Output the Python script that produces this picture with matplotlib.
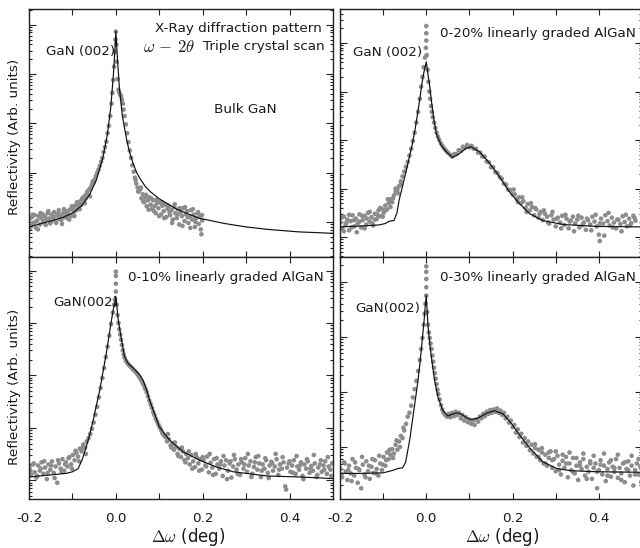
import numpy as np
import matplotlib
matplotlib.use("Agg")
import matplotlib.pyplot as plt
from matplotlib.ticker import FixedLocator, LogLocator, NullFormatter

plt.rcParams['font.family'] = ['DejaVu Sans']
plt.rcParams['mathtext.fontset'] = 'cm'

# ---------------- data (x in deg, reflectivity given as log10) ----------------
XTICKS = [-0.2, 0.0, 0.2, 0.4]
XTICK_LABELS = ['-0.2', '0.0', '0.2', '0.4']
XMINOR = [-0.1, 0.1, 0.3]

# Panel A: Bulk GaN
A_data_x = [-0.199, -0.196, -0.193, -0.190, -0.187, -0.184, -0.181, -0.178, -0.175, -0.172,
            -0.169, -0.166, -0.163, -0.160, -0.157, -0.154, -0.151, -0.148, -0.145, -0.142,
            -0.139, -0.136, -0.133, -0.130, -0.127, -0.124, -0.121, -0.118, -0.115, -0.112,
            -0.109, -0.106, -0.103, -0.100, -0.097, -0.094, -0.091, -0.088, -0.085, -0.082,
            -0.079, -0.076, -0.073, -0.070, -0.067, -0.064, -0.061, -0.058, -0.055, -0.052,
            -0.049, -0.046, -0.043, -0.040, -0.037, -0.034, -0.031, -0.028, -0.025, -0.022,
            -0.019, -0.016, -0.013, -0.010, -0.008, -0.006, -0.004, -0.002, -0.001, 0.000,
            0.001, 0.002, 0.004, 0.006, 0.008, 0.010, 0.012, 0.014, 0.016, 0.018,
            0.020, 0.023, 0.026, 0.029, 0.032, 0.035, 0.038, 0.041, 0.044, 0.047,
            0.050, 0.053, 0.056, 0.059, 0.062, 0.065, 0.068, 0.071, 0.074, 0.077,
            0.080, 0.083, 0.086, 0.089, 0.092, 0.095, 0.098, 0.101, 0.104, 0.107,
            0.110, 0.113, 0.116, 0.119, 0.122, 0.125, 0.128, 0.131, 0.134, 0.137,
            0.140, 0.143, 0.146, 0.149, 0.152, 0.155, 0.158, 0.161, 0.164, 0.167,
            0.170, 0.173, 0.176, 0.179, 0.182, 0.185, 0.188, 0.191, 0.194, 0.197, 0.199]
A_data_logy = [0.05, -0.08, 0.10, -0.02, 0.14, -0.12, 0.03, 0.12, -0.05, 0.08,
               0.16, -0.01, 0.11, 0.04, 0.18, 0.07, -0.03, 0.15, 0.09, 0.20,
               0.02, 0.13, 0.17, 0.06, 0.14, -0.04, 0.19, 0.10, 0.22, 0.08,
               0.16, 0.25, 0.12, 0.28, 0.20, 0.33, 0.24, 0.36, 0.30, 0.42,
               0.35, 0.46, 0.52, 0.47, 0.58, 0.55, 0.66, 0.70, 0.76, 0.80,
               0.86, 0.93, 1.00, 1.06, 1.14, 1.22, 1.30, 1.42, 1.52, 1.63,
               1.80, 1.95, 2.15, 2.40, 2.62, 2.88, 3.15, 3.45, 3.70, 3.86,
               3.60, 3.25, 2.90, 2.68, 2.62, 2.58, 2.55, 2.48, 2.40, 2.28,
               2.15, 1.98, 1.80, 1.62, 1.45, 1.30, 1.15, 1.02, 0.90, 0.78,
               0.70, 0.62, 0.66, 0.48, 0.56, 0.40, 0.50, 0.32, 0.44, 0.50,
               0.35, 0.26, 0.44, 0.32, 0.18, 0.38, 0.28, 0.40, 0.15, 0.33,
               0.22, 0.36, 0.10, 0.27, 0.32, 0.14, 0.24, 0.05, 0.30, 0.18,
               0.08, 0.26, -0.05, 0.20, 0.12, 0.28, 0.02, 0.16, 0.22, -0.02,
               0.10, 0.24, 0.05, 0.15, -0.10, 0.08, 0.18, -0.04, 0.12, -0.25, 0.03]
A_more_x = [-0.1975, -0.1915, -0.1855, -0.1795, -0.1735, -0.1675, -0.1615, -0.1555, -0.1495,
            -0.1435, -0.1375, -0.1315, -0.1255, -0.1195, -0.1135, -0.1075, -0.1015, -0.0955,
            -0.0895, -0.0835, -0.0775, -0.0715, -0.0655, -0.0595, -0.0535,
            0.0455, 0.0515, 0.0575, 0.0635, 0.0695, 0.0755, 0.0815, 0.0875, 0.0935, 0.0995,
            0.1055, 0.1115, 0.1175, 0.1235, 0.1295, 0.1355, 0.1415, 0.1475, 0.1535, 0.1595,
            0.1655, 0.1715, 0.1775, 0.1835, 0.1895, 0.1955, 0.1985]
A_more_logy = [-0.12, 0.15, 0.00, -0.15, 0.18, 0.02, -0.06, 0.22, 0.00,
               0.10, -0.02, 0.24, 0.04, 0.26, 0.15, 0.05, 0.32, 0.12,
               0.40, 0.26, 0.48, 0.38, 0.62, 0.52, 0.82,
               0.85, 0.62, 0.70, 0.42, 0.55, 0.25, 0.48, 0.22, 0.45, 0.12,
               0.40, 0.08, 0.34, 0.20, -0.02, 0.36, 0.15, 0.28, -0.08, 0.30,
               0.10, -0.12, 0.26, 0.00, 0.20, -0.15, 0.14]
A_fit_x = [-0.20, -0.15, -0.12, -0.10, -0.08, -0.06, -0.045, -0.03, -0.02, -0.012, -0.006,
           -0.002, 0.000, 0.003, 0.008, 0.015, 0.025, 0.032, 0.040, 0.048, 0.057, 0.068,
           0.080, 0.10, 0.14, 0.19, 0.25, 0.30, 0.35, 0.42, 0.50]
A_fit_logy = [-0.10, 0.02, 0.10, 0.18, 0.32, 0.56, 0.85, 1.30, 1.75, 2.30, 2.95,
              3.50, 3.87, 3.40, 2.74, 2.15, 1.66, 1.40, 1.18, 1.00, 0.86, 0.72,
              0.61, 0.47, 0.26, 0.08, -0.03, -0.10, -0.15, -0.20, -0.23]

# Panel B: 0-20% graded AlGaN
B_data_x = [-0.199, -0.195, -0.191, -0.187, -0.183, -0.179, -0.175, -0.171, -0.167, -0.163,
            -0.159, -0.155, -0.151, -0.147, -0.143, -0.139, -0.135, -0.131, -0.127, -0.123,
            -0.119, -0.115, -0.111, -0.107, -0.103, -0.099, -0.095, -0.091, -0.087, -0.083,
            -0.079, -0.075, -0.071, -0.067, -0.063, -0.059, -0.055, -0.051, -0.047, -0.043,
            -0.039, -0.035, -0.031, -0.027, -0.023, -0.019, -0.015, -0.012, -0.009, -0.006,
            -0.003, -0.001, 0.000, 0.000, 0.000, 0.001, 0.003, 0.005, 0.007, 0.009,
            0.011, 0.013, 0.015, 0.018, 0.021, 0.024, 0.027, 0.030, 0.034, 0.038,
            0.042, 0.046, 0.050, 0.055, 0.060, 0.065, 0.070, 0.075, 0.080, 0.085,
            0.090, 0.095, 0.100, 0.105, 0.110, 0.115, 0.120, 0.125, 0.130, 0.135,
            0.140, 0.145, 0.150, 0.155, 0.160, 0.165, 0.170, 0.175, 0.180, 0.185,
            0.190, 0.195, 0.200, 0.205, 0.210, 0.215, 0.220, 0.225, 0.230, 0.235,
            0.240, 0.245, 0.250, 0.255, 0.260, 0.265, 0.270, 0.275, 0.280, 0.285,
            0.290, 0.295, 0.300, 0.305, 0.310, 0.315, 0.320, 0.325, 0.330, 0.335,
            0.340, 0.345, 0.350, 0.355, 0.360, 0.365, 0.370, 0.375, 0.380, 0.385,
            0.390, 0.395, 0.400, 0.402, 0.405, 0.410, 0.415, 0.420, 0.425, 0.430,
            0.435, 0.440, 0.445, 0.450, 0.455, 0.460, 0.465, 0.470, 0.475, 0.480, 0.485]
B_data_logy = [0.30, 0.18, 0.42, 0.25, 0.36, 0.14, 0.33, 0.45, 0.22, 0.38,
               0.28, 0.47, 0.20, 0.35, 0.44, 0.26, 0.50, 0.32, 0.41, 0.24,
               0.48, 0.37, 0.55, 0.43, 0.58, 0.50, 0.65, 0.57, 0.70, 0.78,
               0.72, 0.86, 0.93, 0.98, 1.05, 1.15, 1.25, 1.35, 1.45, 1.55,
               1.68, 1.82, 1.98, 2.15, 2.36, 2.58, 2.85, 3.10, 3.30, 3.50,
               3.70, 3.90, 4.05, 4.20, 4.35, 3.75, 3.45, 3.20, 3.00, 2.85,
               2.70, 2.58, 2.47, 2.36, 2.25, 2.15, 2.07, 2.00, 1.93, 1.87,
               1.82, 1.78, 1.74, 1.70, 1.66, 1.71, 1.71, 1.79, 1.78, 1.86,
               1.84, 1.90, 1.85, 1.88, 1.82, 1.82, 1.74, 1.74, 1.66, 1.66,
               1.56, 1.54, 1.44, 1.44, 1.34, 1.32, 1.24, 1.20, 1.10, 1.08,
               0.98, 0.97, 0.88, 0.88, 0.78, 0.82, 0.70, 0.74, 0.60, 0.68,
               0.55, 0.62, 0.45, 0.57, 0.40, 0.52, 0.35, 0.48, 0.42, 0.28,
               0.45, 0.36, 0.22, 0.40, 0.30, 0.44, 0.25, 0.38, 0.18, 0.34,
               0.42, 0.28, 0.36, 0.20, 0.40, 0.30, 0.15, 0.35, 0.26, 0.42,
               0.32, 0.22, 0.05, -0.08, 0.38, 0.28, 0.45, 0.33, 0.24, 0.40,
               0.30, 0.18, 0.36, 0.27, 0.43, 0.31, 0.22, 0.38, 0.29, 0.44, 0.34]
B_more_x = [-0.197, -0.191, -0.185, -0.179, -0.173, -0.167, -0.161, -0.155, -0.149, -0.143,
            -0.137, -0.131, -0.125, -0.119, -0.113, -0.107, -0.101, -0.095, -0.089, -0.083,
            -0.077, -0.071, -0.065, -0.059,
            0.2025, 0.2125, 0.2225, 0.2325, 0.2425, 0.2525, 0.2625, 0.2725, 0.2825, 0.2925,
            0.3025, 0.3125, 0.3225, 0.3325, 0.3425, 0.3525, 0.3625, 0.3725, 0.3825, 0.3925,
            0.4025, 0.4125, 0.4225, 0.4325, 0.4425, 0.4525, 0.4625, 0.4725, 0.4825]
B_more_logy = [0.40, 0.12, 0.30, 0.46, 0.20, 0.35, 0.10, 0.32, 0.44, 0.18,
               0.38, 0.52, 0.28, 0.36, 0.46, 0.60, 0.42, 0.55, 0.78, 0.62,
               0.80, 1.00, 0.90, 1.08,
               0.98, 0.72, 0.82, 0.52, 0.70, 0.60, 0.48, 0.55, 0.30, 0.52,
               0.38, 0.18, 0.46, 0.32, 0.12, 0.44, 0.25, 0.38, 0.14, 0.46,
               0.28, 0.03, 0.50, 0.20, 0.36, 0.12, 0.46, 0.24, 0.40]
B_fit_x = [-0.200, -0.150, -0.110, -0.095, -0.085, -0.075, -0.068, -0.063, -0.055, -0.048,
           -0.040, -0.032, -0.026, -0.020, -0.015, -0.010, -0.005, 0.000, 0.004, 0.008,
           0.012, 0.016, 0.023, 0.034, 0.046, 0.061, 0.077, 0.092, 0.104, 0.123,
           0.147, 0.170, 0.193, 0.216, 0.240, 0.270, 0.317, 0.395, 0.500]
B_fit_logy = [0.21, 0.23, 0.25, 0.28, 0.33, 0.34, 0.50, 0.76, 1.05, 1.31,
              1.62, 1.93, 2.22, 2.55, 2.85, 3.17, 3.42, 3.61, 3.35, 3.10,
              2.80, 2.52, 2.14, 1.90, 1.76, 1.64, 1.72, 1.83, 1.86, 1.76,
              1.52, 1.24, 0.93, 0.69, 0.48, 0.34, 0.26, 0.22, 0.21]

# Panel C: 0-10% graded AlGaN
C_data_x = [-0.199, -0.195, -0.191, -0.187, -0.183, -0.179, -0.175, -0.171, -0.167, -0.163,
            -0.159, -0.155, -0.151, -0.147, -0.143, -0.139, -0.135, -0.131, -0.127, -0.123,
            -0.119, -0.115, -0.111, -0.107, -0.103, -0.099, -0.095, -0.091, -0.087, -0.083,
            -0.079, -0.075, -0.071, -0.067, -0.063, -0.059, -0.055, -0.051, -0.047, -0.043,
            -0.039, -0.035, -0.031, -0.027, -0.023, -0.019, -0.015, -0.011, -0.007, -0.004,
            -0.002, 0.000, 0.000, 0.000, 0.000, 0.002, 0.004, 0.006, 0.008, 0.010,
            0.012, 0.014, 0.016, 0.018, 0.020, 0.023, 0.026, 0.029, 0.032, 0.035,
            0.038, 0.041, 0.044, 0.047, 0.050, 0.053, 0.056, 0.059, 0.062, 0.065,
            0.068, 0.071, 0.074, 0.077, 0.080, 0.083, 0.086, 0.089, 0.092, 0.095,
            0.098, 0.101, 0.104, 0.107, 0.110, 0.114, 0.118, 0.122, 0.126, 0.130,
            0.134, 0.138, 0.142, 0.146, 0.150, 0.154, 0.158, 0.162, 0.166, 0.170,
            0.174, 0.178, 0.182, 0.186, 0.190, 0.194, 0.198, 0.202, 0.206, 0.210,
            0.214, 0.218, 0.222, 0.226, 0.230, 0.234, 0.238, 0.242, 0.246, 0.250,
            0.254, 0.258, 0.262, 0.266, 0.270, 0.274, 0.278, 0.282, 0.286, 0.290,
            0.294, 0.298, 0.302, 0.306, 0.310, 0.314, 0.318, 0.322, 0.326, 0.330,
            0.334, 0.338, 0.342, 0.346, 0.350, 0.354, 0.358, 0.362, 0.366, 0.370,
            0.374, 0.378, 0.382, 0.386, 0.390, 0.394, 0.398, 0.402, 0.406, 0.410,
            0.414, 0.418, 0.422, 0.426, 0.430, 0.434, 0.438, 0.442, 0.446, 0.450,
            0.454, 0.458, 0.462, 0.466, 0.470, 0.474, 0.478, 0.482, 0.486, 0.490, 0.494, 0.498]
C_data_logy = [0.25, 0.10, 0.30, 0.15, 0.05, 0.28, 0.18, 0.34, 0.12, 0.24,
               0.02, 0.30, 0.20, 0.36, 0.14, 0.26, -0.05, 0.32, 0.22, 0.40,
               0.18, 0.34, 0.26, 0.44, 0.30, 0.48, 0.38, 0.52, 0.45, 0.60,
               0.55, 0.68, 0.62, 0.74, 0.80, 0.88, 0.98, 1.10, 1.25, 1.40,
               1.58, 1.76, 1.95, 2.14, 2.35, 2.55, 2.76, 2.98, 3.20, 3.35,
               3.45, 3.60, 3.75, 3.90, 3.98, 3.35, 3.15, 3.00, 2.88, 2.78,
               2.68, 2.58, 2.48, 2.40, 2.34, 2.28, 2.24, 2.21, 2.18, 2.16,
               2.13, 2.10, 2.08, 2.05, 2.02, 1.98, 1.94, 1.90, 1.85, 1.80,
               1.74, 1.68, 1.60, 1.52, 1.45, 1.38, 1.30, 1.24, 1.17, 1.12,
               1.06, 1.01, 0.96, 0.90, 0.86, 0.82, 0.74, 0.78, 0.66, 0.70,
               0.58, 0.64, 0.50, 0.60, 0.44, 0.55, 0.38, 0.50, 0.42, 0.30,
               0.48, 0.36, 0.25, 0.44, 0.32, 0.40, 0.20, 0.38, 0.28, 0.45,
               0.15, 0.33, 0.24, 0.40, 0.12, 0.30, 0.22, 0.36, 0.08, 0.28,
               0.38, 0.18, 0.32, 0.05, 0.26, 0.40, 0.20, 0.30, 0.10, 0.34,
               0.22, 0.42, 0.16, 0.28, 0.36, 0.12, 0.25, 0.44, 0.20, 0.32,
               0.06, 0.30, 0.22, 0.38, 0.14, 0.28, 0.35, 0.18, 0.26, 0.40,
               0.10, 0.30, 0.22, 0.34, -0.12, 0.24, 0.32, 0.16, 0.28, 0.38,
               0.12, 0.26, 0.20, 0.34, 0.08, 0.30, 0.22, 0.36, 0.14, 0.27,
               0.18, 0.32, 0.06, 0.24, 0.30, 0.16, 0.28, 0.36, 0.12, 0.26, 0.20, 0.32]
C_more_x = [-0.197, -0.189, -0.181, -0.173, -0.165, -0.157, -0.149, -0.141, -0.133, -0.125,
            -0.117, -0.109, -0.101, -0.093, -0.085, -0.077, -0.069,
            0.120, 0.128, 0.136, 0.144, 0.152, 0.160, 0.168, 0.176, 0.184, 0.192,
            0.200, 0.208, 0.216, 0.224, 0.232, 0.240, 0.248, 0.256, 0.264, 0.272,
            0.280, 0.288, 0.296, 0.304, 0.312, 0.320, 0.328, 0.336, 0.344, 0.352,
            0.360, 0.368, 0.376, 0.384, 0.392, 0.400, 0.408, 0.416, 0.424, 0.432,
            0.440, 0.448, 0.456, 0.464, 0.472, 0.480, 0.488, 0.496]
C_more_logy = [0.18, 0.32, 0.08, 0.22, 0.36, 0.14, 0.28, 0.04, 0.38, 0.16,
               0.30, 0.42, 0.22, 0.56, 0.36, 0.62, 0.50,
               0.88, 0.62, 0.72, 0.46, 0.62, 0.34, 0.55, 0.22, 0.50, 0.18,
               0.44, 0.26, 0.50, 0.10, 0.42, 0.30, 0.46, 0.02, 0.36, 0.48,
               0.12, 0.40, 0.30, 0.50, 0.06, 0.34, 0.46, 0.18, 0.42, 0.04,
               0.32, 0.50, 0.20, 0.44, -0.18, 0.36, 0.14, 0.46, 0.28, 0.02,
               0.40, 0.22, 0.48, 0.10, 0.38, 0.20, 0.44, 0.08]
C_fit_x = [-0.200, -0.150, -0.114, -0.100, -0.087, -0.078, -0.068, -0.060, -0.052, -0.045,
           -0.037, -0.030, -0.022, -0.016, -0.010, -0.005, -0.002, 0.000, 0.005, 0.009,
           0.013, 0.020, 0.028, 0.040, 0.055, 0.063, 0.071, 0.078, 0.086, 0.100,
           0.124, 0.155, 0.193, 0.232, 0.270, 0.348, 0.425, 0.500]
C_fit_logy = [0.06, 0.10, 0.13, 0.16, 0.22, 0.38, 0.64, 0.88, 1.15, 1.42,
              1.72, 2.05, 2.42, 2.74, 3.06, 3.30, 3.41, 3.51, 3.09, 2.88,
              2.68, 2.36, 2.23, 2.14, 2.01, 1.90, 1.72, 1.52, 1.34, 1.02,
              0.76, 0.54, 0.38, 0.25, 0.16, 0.08, 0.06, 0.03]

# Panel D: 0-30% graded AlGaN
D_data_x = [-0.199, -0.195, -0.191, -0.187, -0.183, -0.179, -0.175, -0.171, -0.167, -0.163,
            -0.159, -0.155, -0.151, -0.147, -0.143, -0.139, -0.135, -0.131, -0.127, -0.123,
            -0.119, -0.115, -0.111, -0.107, -0.103, -0.099, -0.095, -0.091, -0.087, -0.083,
            -0.079, -0.075, -0.071, -0.067, -0.063, -0.059, -0.055, -0.051, -0.047, -0.043,
            -0.039, -0.035, -0.031, -0.027, -0.023, -0.019, -0.015, -0.012, -0.009, -0.006,
            -0.004, -0.002, 0.000, 0.000, 0.000, 0.000, 0.000, 0.002, 0.004, 0.006,
            0.008, 0.010, 0.012, 0.014, 0.016, 0.018, 0.020, 0.022, 0.024, 0.026,
            0.028, 0.031, 0.034, 0.037, 0.040, 0.044, 0.048, 0.052, 0.056, 0.060,
            0.064, 0.068, 0.072, 0.076, 0.080, 0.084, 0.088, 0.092, 0.096, 0.100,
            0.104, 0.108, 0.112, 0.116, 0.120, 0.124, 0.128, 0.132, 0.136, 0.140,
            0.144, 0.148, 0.152, 0.156, 0.160, 0.164, 0.168, 0.172, 0.176, 0.180,
            0.184, 0.188, 0.192, 0.196, 0.200, 0.204, 0.208, 0.212, 0.216, 0.220,
            0.224, 0.228, 0.232, 0.236, 0.240, 0.244, 0.248, 0.252, 0.256, 0.260,
            0.264, 0.268, 0.272, 0.276, 0.280, 0.284, 0.288, 0.292, 0.296, 0.300,
            0.304, 0.308, 0.312, 0.316, 0.320, 0.324, 0.328, 0.332, 0.336, 0.340,
            0.344, 0.348, 0.352, 0.356, 0.360, 0.364, 0.368, 0.372, 0.376, 0.380,
            0.384, 0.388, 0.392, 0.396, 0.400, 0.404, 0.408, 0.412, 0.416, 0.420,
            0.424, 0.428, 0.432, 0.436, 0.440, 0.444, 0.448, 0.452, 0.456, 0.460,
            0.464, 0.468, 0.472, 0.476, 0.480, 0.484, 0.488, 0.492, 0.496]
D_data_logy = [0.60, 0.45, 0.72, 0.55, 0.40, 0.66, 0.52, 0.78, 0.48, 0.62,
               0.35, 0.58, 0.25, 0.68, 0.50, 0.74, 0.56, 0.42, 0.64, 0.53,
               0.76, 0.60, 0.48, 0.70, 0.58, 0.82, 0.66, 0.90, 0.78, 0.86,
               0.96, 0.88, 1.04, 0.95, 1.10, 1.20, 1.16, 1.30, 1.42, 1.55,
               1.62, 1.75, 1.90, 2.05, 2.20, 2.38, 2.58, 2.78, 2.98, 3.22,
               3.42, 3.60, 3.75, 3.90, 4.05, 4.18, 4.28, 3.45, 3.22, 3.08,
               2.98, 2.88, 2.78, 2.66, 2.55, 2.44, 2.34, 2.24, 2.14, 2.04,
               1.96, 1.86, 1.76, 1.68, 1.62, 1.58, 1.55, 1.60, 1.54, 1.62,
               1.56, 1.64, 1.58, 1.62, 1.52, 1.58, 1.48, 1.54, 1.45, 1.50,
               1.42, 1.48, 1.40, 1.50, 1.46, 1.55, 1.52, 1.60, 1.56, 1.64,
               1.60, 1.67, 1.62, 1.68, 1.64, 1.70, 1.62, 1.66, 1.58, 1.62,
               1.52, 1.55, 1.44, 1.48, 1.36, 1.40, 1.26, 1.32, 1.18, 1.24,
               1.08, 1.16, 1.02, 1.10, 0.94, 1.04, 0.88, 0.98, 0.82, 0.95,
               0.76, 0.90, 0.70, 0.86, 0.66, 0.80, 0.92, 0.62, 0.78, 0.56,
               0.84, 0.68, 0.50, 0.75, 0.62, 0.82, 0.45, 0.70, 0.58, 0.80,
               0.52, 0.66, 0.40, 0.72, 0.60, 0.78, 0.48, 0.64, 0.55, 0.74,
               0.42, 0.62, 0.70, 0.25, 0.58, 0.76, 0.50, 0.66, 0.38, 0.60,
               0.72, 0.46, 0.64, 0.55, 0.78, 0.44, 0.62, 0.52, 0.70, 0.36,
               0.60, 0.74, 0.48, 0.66, 0.30, 0.58, 0.70, 0.50, 0.64]
D_more_x = [-0.197, -0.189, -0.181, -0.173, -0.165, -0.157, -0.149, -0.141, -0.133, -0.125,
            -0.117, -0.109, -0.101, -0.093, -0.085, -0.077, -0.069, -0.061, -0.053,
            0.252, 0.260, 0.268, 0.276, 0.284, 0.292, 0.300, 0.308, 0.316, 0.324,
            0.332, 0.340, 0.348, 0.356, 0.364, 0.372, 0.380, 0.388, 0.396, 0.404,
            0.412, 0.420, 0.428, 0.436, 0.444, 0.452, 0.460, 0.468, 0.476, 0.484,
            0.492, 0.498]
D_more_logy = [0.50, 0.70, 0.58, 0.38, 0.72, 0.60, 0.82, 0.45, 0.66, 0.78,
               0.52, 0.84, 0.68, 0.76, 0.95, 0.80, 1.12, 1.00, 1.35,
               1.05, 0.82, 0.98, 0.70, 0.90, 0.76, 0.92, 0.58, 0.86, 0.70,
               0.90, 0.55, 0.80, 0.66, 0.88, 0.42, 0.70, 0.84, 0.55, 0.68,
               0.88, 0.48, 0.76, 0.62, 0.86, 0.40, 0.72, 0.58, 0.84, 0.50,
               0.78, 0.36]
D_fit_x = [-0.200, -0.150, -0.100, -0.080, -0.065, -0.055, -0.048, -0.044, -0.038, -0.032,
           -0.026, -0.020, -0.015, -0.010, -0.005, -0.002, 0.000, 0.004, 0.008, 0.012,
           0.019, 0.027, 0.038, 0.050, 0.061, 0.073, 0.084, 0.095, 0.104, 0.119,
           0.139, 0.158, 0.178, 0.197, 0.216, 0.240, 0.270, 0.302, 0.333, 0.395, 0.500]
D_fit_logy = [0.52, 0.52, 0.53, 0.57, 0.61, 0.62, 0.72, 0.89, 1.15, 1.49,
              1.82, 2.16, 2.50, 2.89, 3.30, 3.60, 3.75, 3.19, 2.88, 2.62,
              2.22, 1.91, 1.67, 1.56, 1.60, 1.62, 1.58, 1.52, 1.50, 1.52,
              1.61, 1.66, 1.60, 1.43, 1.22, 0.98, 0.73, 0.61, 0.57, 0.55, 0.54]

# ---------------- figure ----------------
fig = plt.figure(figsize=(6.4, 5.48), dpi=100)
W, H = 640.0, 548.0

def axes_px(left, top, right, bottom):
    return fig.add_axes([left / W, 1 - bottom / H, (right - left) / W, (bottom - top) / H])

axA = axes_px(29, 9, 333, 257)
axB = axes_px(340, 9, 642, 257)
axC = axes_px(29, 257, 333, 499)
axD = axes_px(340, 257, 642, 499)

panels = [
    (axA, [A_data_x, A_more_x], [A_data_logy, A_more_logy], A_fit_x, A_fit_logy, (-0.71, 4.32), False),
    (axB, [B_data_x, B_more_x], [B_data_logy, B_more_logy], B_fit_x, B_fit_logy, (-0.41, 4.70), False),
    (axC, [C_data_x, C_more_x], [C_data_logy, C_more_logy], C_fit_x, C_fit_logy, (-0.36, 4.26), True),
    (axD, [D_data_x, D_more_x], [D_data_logy, D_more_logy], D_fit_x, D_fit_logy, (0.055, 4.45), True),
]

DOT = '#8c8c8c'
TXT = '#1a1a1a'
FS = 9.7

for ax, dxs, dlys, fx, fly, ylog, showx in panels:
    for dx, dly in zip(dxs, dlys):
        ax.scatter(dx, 10 ** np.array(dly), s=11, color=DOT, edgecolors='none', zorder=2)
    ax.plot(fx, 10 ** np.array(fly), color='#111111', lw=0.85, zorder=3)
    ax.set_yscale('log')
    ax.set_xlim(-0.2, 0.5)
    ax.set_ylim(10 ** ylog[0], 10 ** ylog[1])
    ax.yaxis.set_major_locator(LogLocator(base=10))
    ax.yaxis.set_minor_locator(LogLocator(base=10, subs=np.arange(2, 10)))
    ax.yaxis.set_major_formatter(NullFormatter())
    ax.yaxis.set_minor_formatter(NullFormatter())
    ax.xaxis.set_major_locator(FixedLocator(XTICKS))
    ax.xaxis.set_minor_locator(FixedLocator(XMINOR))
    if showx:
        ax.set_xticklabels(XTICK_LABELS)
    ax.tick_params(axis='both', which='both', direction='in', top=True, right=True,
                   colors='#222222', width=0.8)
    ax.tick_params(axis='x', which='both', length=4, labelsize=FS, pad=9,
                   labelbottom=showx, labelcolor=TXT)
    ax.tick_params(axis='y', which='major', length=5)
    ax.tick_params(axis='y', which='minor', length=2.5)
    for sp in ax.spines.values():
        sp.set_linewidth(1.0)
        sp.set_color('#222222')

# annotations
axA.text(0.964, 0.923, 'X-Ray diffraction pattern', transform=axA.transAxes,
         ha='right', va='center', fontsize=FS, color=TXT)
axA.text(0.545, 0.847, r'$\omega\,-\,2\theta$', transform=axA.transAxes,
         ha='right', va='center', fontsize=12, color=TXT)
axA.text(0.974, 0.847, 'Triple crystal scan', transform=axA.transAxes,
         ha='right', va='center', fontsize=FS, color=TXT)
axA.text(0.056, 0.827, 'GaN (002)', transform=axA.transAxes, ha='left', va='center',
         fontsize=FS, color=TXT)
axA.text(0.711, 0.593, 'Bulk GaN', transform=axA.transAxes, ha='center', va='center',
         fontsize=FS, color=TXT)

axB.text(0.331, 0.903, '0-20% linearly graded AlGaN', transform=axB.transAxes,
         ha='left', va='center', fontsize=FS, color=TXT)
axB.text(0.043, 0.823, 'GaN (002)', transform=axB.transAxes, ha='left', va='center',
         fontsize=FS, color=TXT)

axC.text(0.326, 0.917, '0-10% linearly graded AlGaN', transform=axC.transAxes,
         ha='left', va='center', fontsize=FS, color=TXT)
axC.text(0.079, 0.814, 'GaN(002)', transform=axC.transAxes, ha='left', va='center',
         fontsize=FS, color=TXT)

axD.text(0.331, 0.917, '0-30% linearly graded AlGaN', transform=axD.transAxes,
         ha='left', va='center', fontsize=FS, color=TXT)
axD.text(0.05, 0.789, 'GaN(002)', transform=axD.transAxes, ha='left', va='center',
         fontsize=FS, color=TXT)

# axis labels
fig.text(15 / W, 1 - 137 / H, 'Reflectivity (Arb. units)', rotation=90,
         ha='center', va='center', fontsize=FS, color=TXT)
fig.text(15 / W, 1 - 387 / H, 'Reflectivity (Arb. units)', rotation=90,
         ha='center', va='center', fontsize=FS, color=TXT)
fig.text(188 / W, 1 - 537 / H, r'$\Delta\omega$ (deg)', ha='center', va='center',
         fontsize=12, color=TXT)
fig.text(502 / W, 1 - 537 / H, r'$\Delta\omega$ (deg)', ha='center', va='center',
         fontsize=12, color=TXT)

fig.savefig('out.png', dpi=100)
